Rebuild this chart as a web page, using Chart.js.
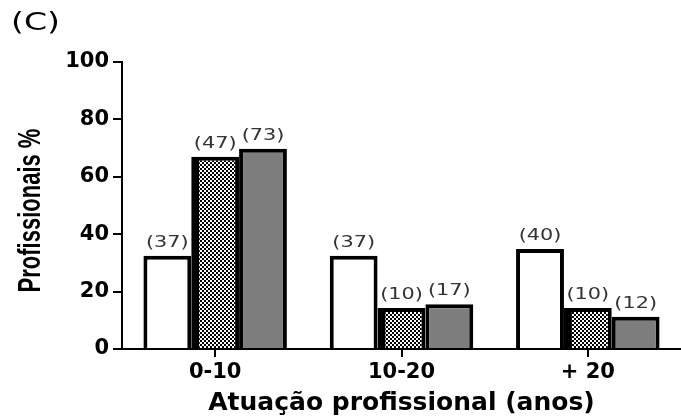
<!DOCTYPE html>
<html><head><meta charset="utf-8">
<script src="https://cdn.jsdelivr.net/npm/chart.js@4/dist/chart.umd.min.js"></script>
<style>html,body{margin:0;padding:0;background:#fff}#wrap{width:681px;height:418px;position:relative}</style>
</head><body><div id="wrap"><canvas id="c" width="681" height="418"></canvas></div>
<script>
const categories = ['0-10', '10-20', '+ 20'];
const seriesA = [32.5, 32.5, 34.8];
const seriesB = [67, 14.3, 14.3];
const seriesC = [69.8, 15.6, 11.2];
const countsA = ['(37)', '(37)', '(40)'];
const countsB = ['(47)', '(10)', '(10)'];
const countsC = ['(73)', '(17)', '(12)'];
const yTicks = [0, 20, 40, 60, 80, 100];
const yTitle = 'Profissionais %';
const panelLabel = '(C)';

function makePattern(){
  const p = document.createElement('canvas'); p.width = 4; p.height = 4;
  const g = p.getContext('2d');
  g.fillStyle = '#fff'; g.fillRect(0,0,4,4);
  g.fillStyle = '#000'; g.fillRect(0,0,2,2); g.fillRect(2,2,2,2);
  return document.getElementById('c').getContext('2d').createPattern(p, 'repeat');
}
const counts = [countsA, countsB, countsC];
function wideText(ctx, txt, x, y, sx){
  ctx.save(); ctx.translate(x, y); ctx.scale(sx, 1); ctx.fillText(txt, 0, 0); ctx.restore();
}
const labelPlugin = {
  id: 'lbl',
  afterDatasetsDraw(chart){
    const ctx = chart.ctx;
    ctx.save();
    ctx.font = '16px "DejaVu Sans", sans-serif';
    ctx.fillStyle = '#333';
    ctx.textAlign = 'center'; ctx.textBaseline = 'bottom';
    chart.data.datasets.forEach((ds, i) => {
      chart.getDatasetMeta(i).data.forEach((el, j) => {
        wideText(ctx, counts[i][j], el.x, el.y - 5, 1.3);
      });
    });
    ctx.font = '24px "DejaVu Sans", sans-serif';
    ctx.fillStyle = '#000'; ctx.textAlign = 'left'; ctx.textBaseline = 'middle';
    wideText(ctx, panelLabel, 11, 24, 1.38);
    // rotated y-axis title, stretched across its direction like the reference
    const a = chart.chartArea;
    ctx.save();
    ctx.translate(32, (a.top + a.bottom) / 2 + 5);
    ctx.scale(1.4, 1);
    ctx.rotate(-Math.PI / 2);
    ctx.font = 'bold 22px "Liberation Sans", Arial, sans-serif';
    ctx.textAlign = 'center'; ctx.textBaseline = 'middle';
    ctx.fillText(yTitle, 0, 0);
    ctx.restore();
    ctx.restore();
  }
};
const bold = {family: '"DejaVu Sans", sans-serif', weight: 'bold'};
new Chart(document.getElementById('c'), {
  type: 'bar',
  data: {
    labels: categories,
    datasets: [
      {data: seriesA, backgroundColor: '#fff', borderColor: '#000', borderWidth: {left: 4, top: 4, right: 4, bottom: 0}},
      {data: seriesB, backgroundColor: makePattern(), borderColor: '#000', borderWidth: {left: 8, top: 4, right: 4, bottom: 0}},
      {data: seriesC, backgroundColor: '#7d7d7d', borderColor: '#000', borderWidth: {left: 4, top: 4, right: 4, bottom: 0}}
    ]
  },
  options: {
    responsive: false, animation: false,
    layout: {padding: {top: 62, right: 0, left: 0, bottom: 0}},
    datasets: {bar: {categoryPercentage: 0.77, barPercentage: 1.0, borderSkipped: 'bottom'}},
    plugins: {legend: {display: false}, tooltip: {enabled: false}},
    scales: {
      x: {
        grid: {drawOnChartArea: false, offset: false, color: '#000', lineWidth: 2, tickLength: 8},
        border: {color: '#000', width: 2},
        ticks: {color: '#000', font: {...bold, size: 21}, padding: 3},
        title: {display: true, text: 'Atuação profissional (anos)', color: '#000', font: {...bold, size: 25}, padding: {top: 2, bottom: 0}},
        afterFit(s){ s.height = 69; }
      },
      y: {
        min: 0, max: 100,
        afterBuildTicks(s){ s.ticks = yTicks.map(v => ({value: v})); },
        grid: {drawOnChartArea: false, color: '#000', lineWidth: 2, tickLength: 9},
        border: {color: '#000', width: 2},
        ticks: {color: '#000', font: {...bold, size: 21}, padding: 4},
        title: {display: false},
        afterFit(s){ s.width = 122; }
      }
    }
  },
  plugins: [labelPlugin]
});
</script></body></html>
